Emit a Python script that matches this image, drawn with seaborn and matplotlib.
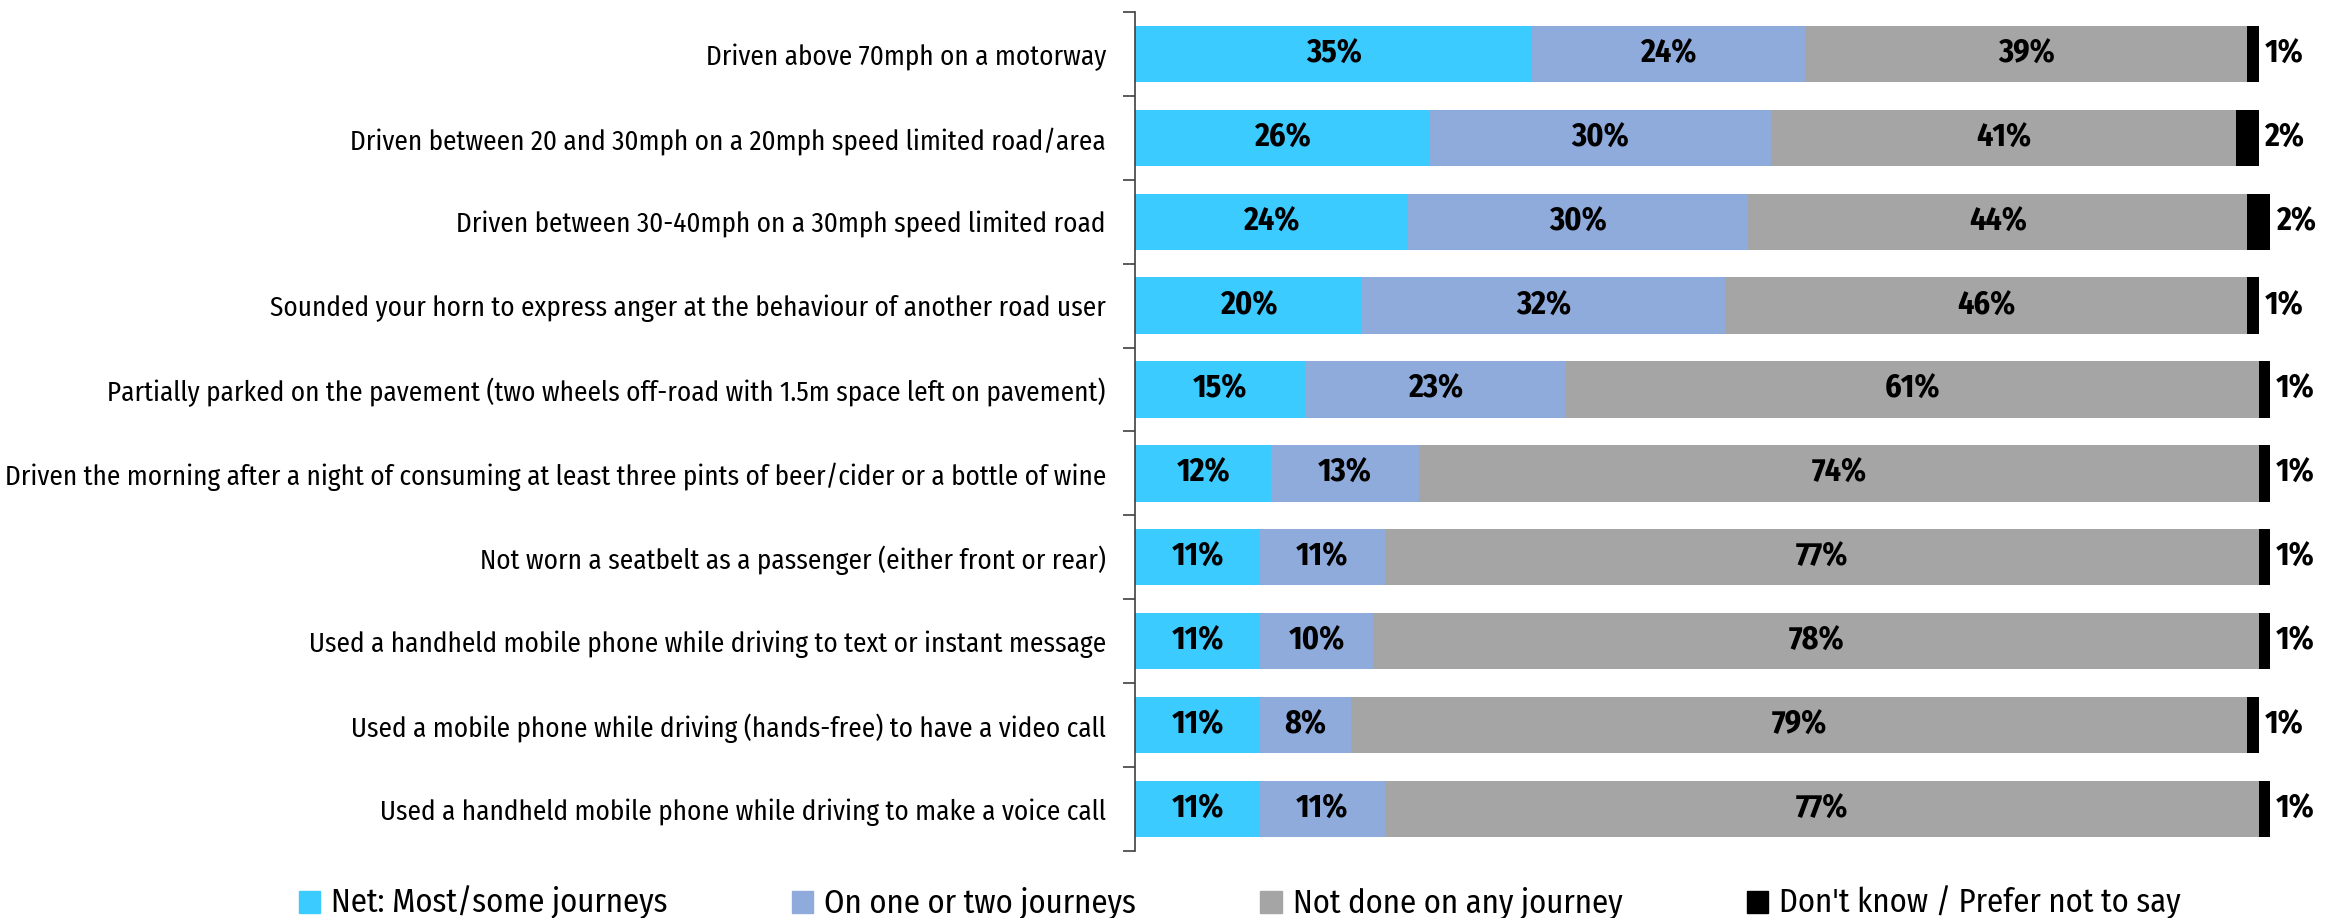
import matplotlib
matplotlib.use("Agg")
import matplotlib.pyplot as plt
import seaborn as sns
import numpy as np
import pandas as pd

categories = [
    "Driven above 70mph on a motorway",
    "Driven between 20 and 30mph on a 20mph speed limited road/area",
    "Driven between 30-40mph on a 30mph speed limited road",
    "Sounded your horn to express anger at the behaviour of another road user",
    "Partially parked on the pavement (two wheels off-road with 1.5m space left on pavement)",
    "Driven the morning after a night of consuming at least three pints of beer/cider or a bottle of wine",
    "Not worn a seatbelt as a passenger (either front or rear)",
    "Used a handheld mobile phone while driving to text or instant message",
    "Used a mobile phone while driving (hands-free) to have a video call",
    "Used a handheld mobile phone while driving to make a voice call",
]
most_some = [35, 26, 24, 20, 15, 12, 11, 11, 11, 11]
one_two = [24, 30, 30, 32, 23, 13, 11, 10, 8, 11]
not_done = [39, 41, 44, 46, 61, 74, 77, 78, 79, 77]
dont_know = [1, 2, 2, 1, 1, 1, 1, 1, 1, 1]

series_names = ["Net: Most/some journeys", "On one or two journeys",
                "Not done on any journey", "Don't know / Prefer not to say"]
series_colors = ["#3CCBFF", "#8FABDC", "#A5A5A5", "#000000"]

sns.set_theme(style="white")
plt.rcParams["font.family"] = ["Fira Sans Condensed", "DejaVu Sans"]
plt.rcParams["text.color"] = "black"
plt.rcParams["ytick.color"] = "black"

df = pd.DataFrame({
    "category": categories,
    "s1": most_some, "s2": one_two, "s3": not_done, "s4": dont_know,
})
parts = ["s1", "s2", "s3", "s4"]
cum = df[parts].cumsum(axis=1)

fig = plt.figure(figsize=(23.26, 9.18), dpi=100)
ax = fig.add_axes([0.488, 0.073, 0.488, 0.914])

# Stack by drawing cumulative totals, widest layer first
for i in range(3, -1, -1):
    sns.barplot(x=cum[parts[i]], y=df["category"], orient="h",
                color=series_colors[i], width=0.67, saturation=1,
                edgecolor="none", linewidth=0, ax=ax)

ax.set_xlim(0, 100)
ax.set_ylim(len(categories) - 0.5, -0.5)
ax.set_xlabel("")
ax.set_ylabel("")
ax.set_xticks([])

for r in range(len(categories)):
    left = 0
    for i, p in enumerate(parts):
        v = df.loc[r, p]
        if i < 3:
            ax.text(left + v / 2, r, f"{v}%", ha="center", va="center",
                    fontsize=23, fontweight="bold", color="black")
        else:
            ax.text(left + v + 0.5, r, f"{v}%", ha="left", va="center",
                    fontsize=23, fontweight="bold", color="black")
        left += v

ax.tick_params(axis="y", which="major", length=0, pad=21, labelsize=19.5,
               labelcolor="black")
ax.set_yticks(np.arange(-0.5, len(categories), 1.0), minor=True)
ax.tick_params(axis="y", which="minor", left=True, length=9, width=1.2,
               color="#404040")

for s in ["top", "right", "bottom"]:
    ax.spines[s].set_visible(False)
ax.spines["left"].set_color("#404040")
ax.spines["left"].set_linewidth(1.2)

handles = [plt.Rectangle((0, 0), 1, 1, color=c) for c in series_colors]
fig.legend(handles, series_names, loc="center", ncol=4,
           bbox_to_anchor=(0.533, 0.016), frameon=False, fontsize=23.5,
           handlelength=0.65, handleheight=0.65, handletextpad=0.35,
           columnspacing=3.8, labelcolor="black")

fig.savefig("out.png", dpi=100)
